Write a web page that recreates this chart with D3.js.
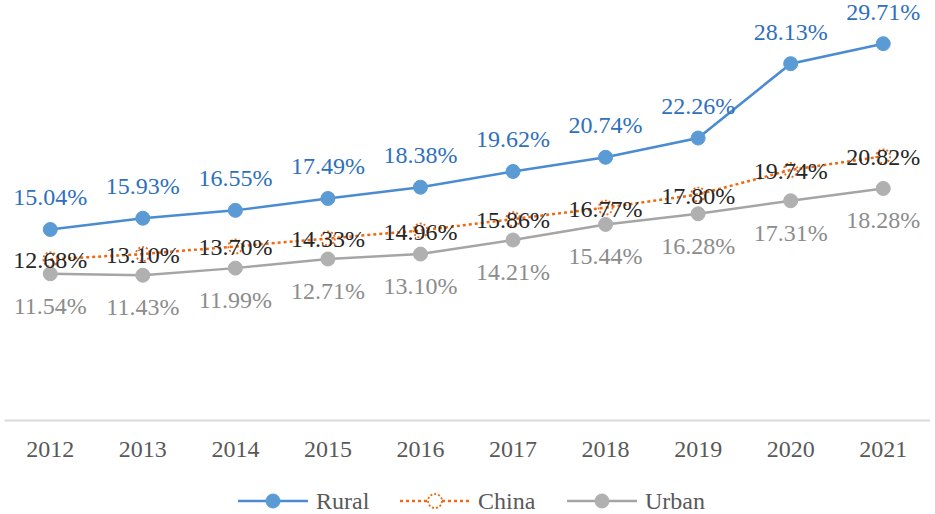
<!DOCTYPE html>
<html lang="en">
<head>
  <meta charset="utf-8">
  <title>Rural, China, Urban</title>
  <script src="https://d3js.org/d3.v7.min.js"></script>
  <style>
    body { margin: 0; background: #fff; }
  </style>
</head>
<body>
  <div id="chart"></div>

  <script>
    "use strict"

    var anos = ["2012", "2013", "2014", "2015", "2016", "2017", "2018", "2019", "2020", "2021"];
    var rural = [15.04, 15.93, 16.55, 17.49, 18.38, 19.62, 20.74, 22.26, 28.13, 29.71];
    var china = [12.68, 13.10, 13.70, 14.33, 14.96, 15.86, 16.77, 17.80, 19.74, 20.82];
    var urban = [11.54, 11.43, 11.99, 12.71, 13.10, 14.21, 15.44, 16.28, 17.31, 18.28];

    var fonte = 'Liberation Serif';
    var largura = 935, altura = 514;

    var svg = d3.select('#chart')
      .append('svg')
        .attr('width', largura)
        .attr('height', altura)
        .attr('font-family', fonte);

    var x = d3.scaleBand()
              .domain(anos)
              .range([4, 929.5])
              .padding(0);

    var y = d3.scaleLinear()
              .domain([0, 30])
              .range([420, 40]);

    var cx = d => x(d) + x.bandwidth() / 2;

    // eixo x
    var eixo = svg.append('g')
      .attr('transform', 'translate(0,' + y(0) + ')')
      .call(d3.axisBottom(x).tickSize(0).tickSizeOuter(0).tickPadding(20))
      .attr('font-family', fonte);
    eixo.select('.domain').attr('stroke', '#d9d9d9').attr('stroke-width', 2);
    eixo.selectAll('text')
      .attr('font-size', 24)
      .attr('fill', '#595959');

    var series = [
      {nome: 'Rural', valores: rural, linha: '#4a8bd2', marca: '#5b9bd5', texto: '#2e70bc', dash: null, oco: false, rotulo: -24},
      {nome: 'China', valores: china, linha: '#ee6a12', marca: 'none', texto: '#262626', dash: '3,3', oco: true, rotulo: 9},
      {nome: 'Urban', valores: urban, linha: '#a5a5a5', marca: '#b0b0b0', texto: '#8c8c8c', dash: null, oco: false, rotulo: 40}
    ];

    var linha = d3.line()
      .x((d, i) => cx(anos[i]))
      .y(d => y(d));

    series.forEach(function(s) {
      svg.append('path')
        .datum(s.valores)
        .attr('d', linha)
        .attr('fill', 'none')
        .attr('stroke', s.linha)
        .attr('stroke-width', 2.5)
        .attr('stroke-dasharray', s.dash);

      svg.selectAll(null)
        .data(s.valores)
        .enter()
        .append('circle')
          .attr('cx', (d, i) => cx(anos[i]))
          .attr('cy', d => y(d))
          .attr('r', 7)
          .attr('fill', s.marca)
          .attr('stroke', s.oco ? s.linha : s.marca)
          .attr('stroke-width', s.oco ? 1.8 : 1)
          .attr('stroke-dasharray', s.oco ? '2,2' : null);
    });

    series.forEach(function(s) {
      svg.selectAll(null)
        .data(s.valores)
        .enter()
        .append('text')
          .attr('x', (d, i) => cx(anos[i]))
          .attr('y', d => y(d) + s.rotulo)
          .attr('text-anchor', 'middle')
          .attr('font-size', 24)
          .attr('fill', s.texto)
          .text(d => d.toFixed(2) + '%');
    });

    // legenda
    var legX = [238, 400, 567];
    var legenda = svg.selectAll('.leg')
      .data(series)
      .enter()
      .append('g')
        .attr('class', 'leg')
        .attr('transform', (d, i) => 'translate(' + legX[i] + ',501)');

    legenda.append('line')
      .attr('x1', 0).attr('x2', 70)
      .attr('stroke', d => d.linha)
      .attr('stroke-width', 2.5)
      .attr('stroke-dasharray', d => d.dash);

    legenda.append('circle')
      .attr('cx', 35)
      .attr('r', 7)
      .attr('fill', d => d.oco ? '#fff' : d.marca)
      .attr('stroke', d => d.oco ? d.linha : d.marca)
      .attr('stroke-width', d => d.oco ? 1.8 : 1)
      .attr('stroke-dasharray', d => d.oco ? '2,2' : null);

    legenda.append('text')
      .attr('x', 78)
      .attr('y', 8)
      .attr('font-size', 24)
      .attr('fill', '#595959')
      .text(d => d.nome);
  </script>
</body>
</html>
